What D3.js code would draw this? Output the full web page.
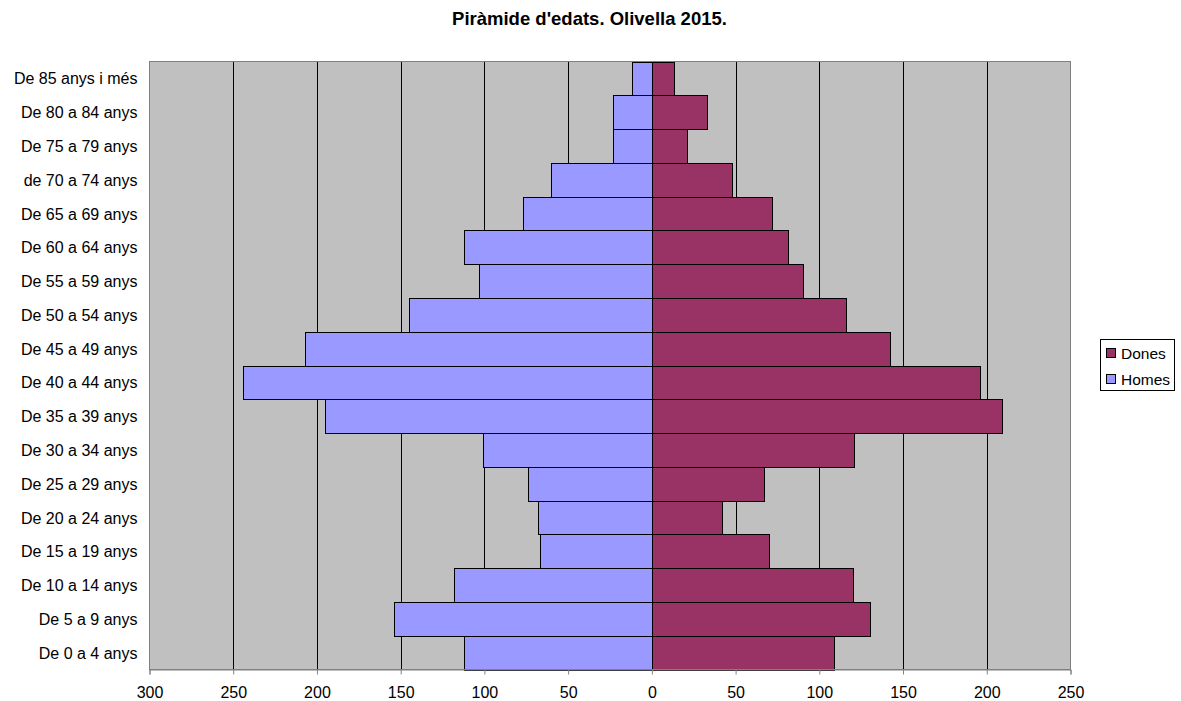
<!DOCTYPE html>
<html lang="ca">
<head>
<meta charset="UTF-8">
<script src="https://d3js.org/d3.v7.min.js"></script>
<style>
  body { margin: 0; background: #fff; overflow: hidden; }
  svg { display: block; font-family: "Liberation Sans", Arial, sans-serif; }
</style>
</head>
<body>
<div id="plot"></div>
<script>
// age groups, top to bottom as drawn
const groups = ["De 85 anys i més", "De 80 a 84 anys", "De 75 a 79 anys", "de 70 a 74 anys",
  "De 65 a 69 anys", "De 60 a 64 anys", "De 55 a 59 anys", "De 50 a 54 anys",
  "De 45 a 49 anys", "De 40 a 44 anys", "De 35 a 39 anys", "De 30 a 34 anys",
  "De 25 a 29 anys", "De 20 a 24 anys", "De 15 a 19 anys", "De 10 a 14 anys",
  "De 5 a 9 anys", "De 0 a 4 anys"];
const homes = [12, 23, 23, 60, 77, 112, 103, 145, 207, 244, 195, 101, 74, 68, 67, 118, 154, 112];
const dones = [13, 33, 21, 48, 72, 81, 90, 116, 142, 196, 209, 121, 67, 42, 70, 120, 130, 109];
const xTicks = [-300, -250, -200, -150, -100, -50, 0, 50, 100, 150, 200, 250];

const W = 1181, H = 701;
const pLeft = 149.5, pRight = 1070.5, pTop = 61.5, pBottom = 669.5;

const svg = d3.select("#plot").append("svg").attr("width", W).attr("height", H);

const x = d3.scaleLinear().domain([-300, 250]).range([pLeft, pRight]);
const y = d3.scaleBand().domain(groups).range([pTop, pBottom]).padding(0);

// plot background
svg.append("rect")
    .attr("x", pLeft).attr("y", pTop)
    .attr("width", pRight - pLeft).attr("height", pBottom - pTop)
    .attr("fill", "#c0c0c0");

// gridlines
svg.append("g")
  .selectAll("line")
  .data(xTicks.filter(d => d > -300 && d < 250))
  .join("line")
    .attr("x1", d => Math.round(x(d)) + 0.5).attr("x2", d => Math.round(x(d)) + 0.5)
    .attr("y1", pTop).attr("y2", pBottom)
    .attr("stroke", "#000").attr("stroke-width", 1);

const rows = groups.map((g, i) => ({ g, h: homes[i], d: dones[i] }));

// homes (left)
svg.append("g")
  .selectAll("rect")
  .data(rows)
  .join("rect")
    .attr("x", d => Math.round(x(-d.h)) + 0.5)
    .attr("y", d => Math.round(y(d.g)) + 0.5)
    .attr("width", d => Math.round(x(0)) - Math.round(x(-d.h)))
    .attr("height", d => Math.round(y(d.g) + y.bandwidth()) - Math.round(y(d.g)))
    .attr("fill", "#9999ff").attr("stroke", "#000");

// dones (right)
svg.append("g")
  .selectAll("rect")
  .data(rows)
  .join("rect")
    .attr("x", d => Math.round(x(0)) + 0.5)
    .attr("y", d => Math.round(y(d.g)) + 0.5)
    .attr("width", d => Math.round(x(d.d)) - Math.round(x(0)))
    .attr("height", d => Math.round(y(d.g) + y.bandwidth()) - Math.round(y(d.g)))
    .attr("fill", "#993366").attr("stroke", "#000");

// plot border
svg.append("rect")
    .attr("x", pLeft).attr("y", pTop)
    .attr("width", pRight - pLeft).attr("height", pBottom - pTop)
    .attr("fill", "none").attr("stroke", "#808080");

// x axis
const xAxis = d3.axisBottom(x).tickValues(xTicks).tickSize(5).tickFormat(d => Math.abs(d));
const gx = svg.append("g").attr("transform", `translate(0,${pBottom})`).call(xAxis);
gx.select(".domain").attr("stroke", "#808080");
gx.selectAll(".tick line").attr("stroke", "#808080");
gx.selectAll("text").attr("font-size", 16).attr("font-family", "Liberation Sans, Arial, sans-serif")
  .attr("fill", "#000").attr("y", 28.5).attr("dy", 0);

// y labels
svg.append("g")
  .selectAll("text")
  .data(groups)
  .join("text")
    .attr("x", 137.5)
    .attr("y", d => y(d) + y.bandwidth() / 2)
    .attr("dy", "0.38em")
    .attr("text-anchor", "end")
    .attr("font-size", 16)
    .text(d => d);

// title
svg.append("text")
    .attr("x", 589.5).attr("y", 25)
    .attr("text-anchor", "middle")
    .attr("font-size", 18.5).attr("font-weight", "bold")
    .text("Piràmide d'edats. Olivella 2015.");

// legend
const lg = svg.append("g");
lg.append("rect").attr("x", 1100.5).attr("y", 339.5).attr("width", 74).attr("height", 51)
  .attr("fill", "#fff").attr("stroke", "#000");
const legendItems = [{ k: "Dones", c: "#993366" }, { k: "Homes", c: "#9999ff" }];
legendItems.forEach((it, i) => {
  lg.append("rect").attr("x", 1106.5).attr("y", 348.5 + i * 26).attr("width", 9).attr("height", 9)
    .attr("fill", it.c).attr("stroke", "#000");
  lg.append("text").attr("x", 1121).attr("y", 359 + i * 25.5)
    .attr("font-size", 15.5).text(it.k);
});
</script>
</body>
</html>
